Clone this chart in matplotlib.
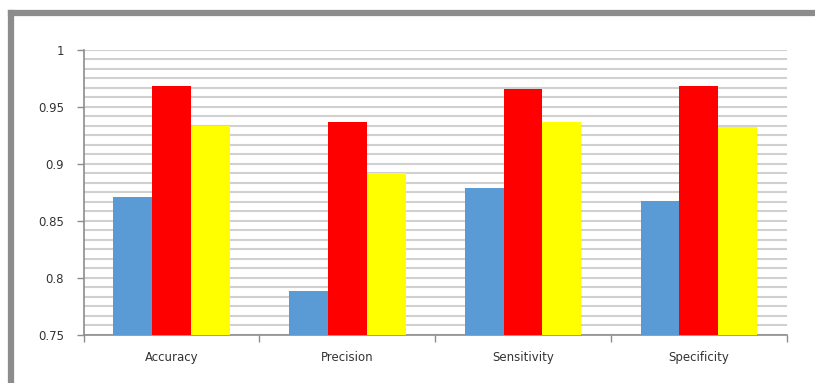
import numpy as np
import matplotlib.pyplot as plt
from matplotlib.lines import Line2D

categories = ['Accuracy', 'Precision', 'Sensitivity', 'Specificity']
series_blue = [0.871, 0.788, 0.879, 0.867]
series_red = [0.968, 0.937, 0.966, 0.968]
series_yellow = [0.933, 0.892, 0.937, 0.932]
y_ticks = [0.75, 0.8, 0.85, 0.9, 0.95, 1.0]

colors = ['#5B9BD5', '#FF0000', '#FFFF00']
grey = '#8c8c8c'
text_color = '#333333'

fig = plt.figure(figsize=(8.15, 3.83), dpi=100)
ax = fig.add_axes([0.1025, 0.1266, 0.8628, 0.7429])

x = np.arange(len(categories))
w = 0.221
for i, (vals, c) in enumerate(zip([series_blue, series_red, series_yellow], colors)):
    ax.bar(x + (i - 1) * w, vals, width=w, color=c, zorder=3, linewidth=0)

ax.set_xlim(-0.5, len(categories) - 0.5)
ax.set_ylim(0.75, 1.0)

# major ticks carry labels, minor ticks only draw the fine grid
ax.yaxis.remove_overlapping_locs = False
ax.set_yticks(y_ticks)
ax.set_yticklabels(['{:g}'.format(v) for v in y_ticks])
ax.set_yticks(np.linspace(0.75, 1.0, 31), minor=True)
ax.yaxis.grid(True, which='minor', color='#d0d0d0', linewidth=1.5, zorder=0)
ax.tick_params(axis='y', which='major', direction='out', length=5, width=1,
               color=grey, pad=9, labelsize=8.5, labelcolor=text_color)
ax.tick_params(axis='y', which='minor', length=0)

# category separators as ticks, names placed between them
ax.set_xticks(np.arange(-0.5, len(categories), 1.0))
ax.set_xticklabels([])
ax.set_xticks(x, minor=True)
ax.set_xticklabels(categories, minor=True)
ax.tick_params(axis='x', which='major', direction='out', length=5, width=1, color=grey)
ax.tick_params(axis='x', which='minor', length=0, pad=12, labelsize=8.5,
               labelcolor=text_color)

for s in ['top', 'right']:
    ax.spines[s].set_visible(False)
for s in ['left', 'bottom']:
    ax.spines[s].set_color(grey)
    ax.spines[s].set_linewidth(1.2)
ax.set_axisbelow(True)

# thick frame around the chart (top and left edges)
W, H = 815, 383
fig.add_artist(Line2D([10.5 / W, 10.5 / W], [0, 1 - 13 / H], color=grey,
                      linewidth=4.5, transform=fig.transFigure, solid_capstyle='projecting'))
fig.add_artist(Line2D([10.5 / W, 1], [1 - 13 / H, 1 - 13 / H], color=grey,
                      linewidth=4.5, transform=fig.transFigure, solid_capstyle='projecting'))

fig.savefig('out.png', dpi=100)
